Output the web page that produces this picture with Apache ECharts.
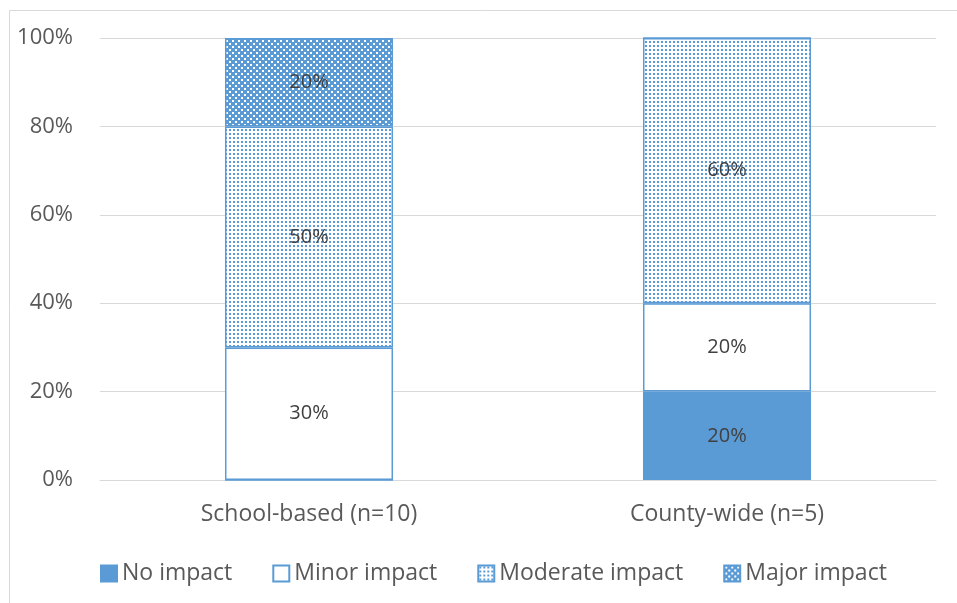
<!DOCTYPE html>
<html><head><meta charset="utf-8">
<script src="https://cdn.jsdelivr.net/npm/echarts@6/dist/echarts.min.js"></script>
<style>html,body{margin:0;padding:0;background:#fff}#c{width:957px;height:603px}</style>
</head><body><div id="c"></div>
<script>
const categories = ['School-based (n=10)', 'County-wide (n=5)'];
const seriesNames = ['No impact', 'Minor impact', 'Moderate impact', 'Major impact'];
const noImpact = [0, 20];
const minorImpact = [30, 20];
const moderateImpact = [50, 60];
const majorImpact = [20, 0];
const yTicks = [0, 20, 40, 60, 80, 100];

const BLUE = '#5B9BD5';
function makePattern(bg, fg, w, h, dots, s) {
  const cv = document.createElement('canvas');
  cv.width = w; cv.height = h;
  const ctx = cv.getContext('2d');
  ctx.fillStyle = bg; ctx.fillRect(0, 0, w, h);
  ctx.fillStyle = fg;
  dots.forEach(d => ctx.fillRect(d[0], d[1], s, s));
  return { image: cv, repeat: 'repeat' };
}
const moderatePat = makePattern('#ffffff', BLUE, 4, 4, [[1, 1]], 2);
const majorPat = makePattern(BLUE, '#ffffff', 6, 6, [[1, 1], [4, 4]], 2);

const fills = [BLUE, '#ffffff', moderatePat, majorPat];
const dataSets = [noImpact, minorImpact, moderateImpact, majorImpact];
const font = '"Open Sans", "Noto Sans", sans-serif';

const chart = echarts.init(document.getElementById('c'));
chart.setOption({
  animation: false,
  textStyle: { fontFamily: font },
  graphic: [{
    type: 'rect', shape: { x: 9.5, y: 10.5, width: 1200, height: 1200 },
    style: { fill: 'none', stroke: '#d9d9d9', lineWidth: 1 }, silent: true
  }],
  grid: { left: 100, right: 21, top: 38, bottom: 123 },
  legend: {
    top: 557, left: 95,
    itemWidth: 16, itemHeight: 16, itemGap: 40,
    icon: 'rect',
    textStyle: { fontSize: 23, color: '#595959', fontFamily: font, padding: [0, 0, 0, 0] },
    data: seriesNames
  },
  xAxis: {
    type: 'category', data: categories,
    axisLine: { lineStyle: { color: '#d9d9d9' } },
    axisTick: { show: false },
    axisLabel: { fontSize: 23, color: '#595959', margin: 23 }
  },
  yAxis: {
    type: 'value', min: 0, max: 100, interval: 20,
    axisLabel: { fontSize: 22, color: '#595959', margin: 27, formatter: v => v + '%' },
    splitLine: { lineStyle: { color: '#d9d9d9', width: 1 } },
    axisLine: { show: false }, axisTick: { show: false }
  },
  series: seriesNames.map((n, i) => ({
    name: n, type: 'bar', stack: 'total', barWidth: '40.2%',
    data: dataSets[i],
    itemStyle: { color: fills[i], borderColor: BLUE, borderWidth: 1.5 },
    label: {
      show: true, position: 'inside', color: '#404040', fontSize: 20,
      formatter: p => p.value > 0 ? p.value + '%' : ''
    }
  }))
});
</script></body></html>
